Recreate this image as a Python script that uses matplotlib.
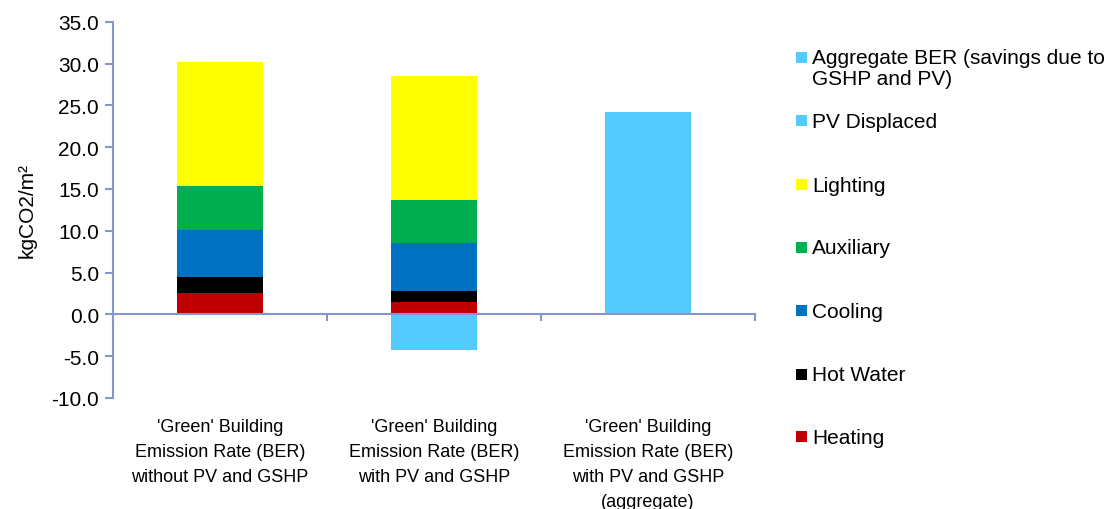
import matplotlib
matplotlib.use("Agg")
import matplotlib.pyplot as plt
from matplotlib.patches import Rectangle
import numpy as np

plt.rcParams['font.family'] = ['Liberation Sans', 'DejaVu Sans']

categories = [
    "'Green' Building\nEmission Rate (BER)\nwithout PV and GSHP",
    "'Green' Building\nEmission Rate (BER)\nwith PV and GSHP",
    "'Green' Building\nEmission Rate (BER)\nwith PV and GSHP\n(aggregate)",
]

heating = [2.56, 1.52, 0.0]
hot_water = [1.86, 1.31, 0.0]
cooling = [5.73, 5.65, 0.0]
auxiliary = [5.25, 5.19, 0.0]
lighting = [14.75, 14.83, 0.0]
pv_displaced = [0.0, -4.3, 0.0]
aggregate_ber = [0.0, 0.0, 24.2]

y_ticks = [-10, -5, 0, 5, 10, 15, 20, 25, 30, 35]

stack_series = [
    ("Heating", heating, "#C00000"),
    ("Hot Water", hot_water, "#000000"),
    ("Cooling", cooling, "#0070C0"),
    ("Auxiliary", auxiliary, "#00B050"),
    ("Lighting", lighting, "#FFFF00"),
]
pv_color = "#55CAFF"
agg_color = "#55CAFF"
axis_color = "#8696CC"

W, H = 1116, 510
fig = plt.figure(figsize=(W / 100, H / 100), dpi=100)
ax = fig.add_axes([113 / W, 1 - 399 / H, (755 - 113) / W, (399 - 22.7) / H])

x = np.arange(len(categories))
width = 0.4
bottom = np.zeros(len(categories))
for name, vals, col in stack_series:
    v = np.array(vals)
    ax.bar(x, v, width, bottom=bottom, color=col, linewidth=0)
    bottom += v
ax.bar(x, pv_displaced, width, color=pv_color, linewidth=0)
ax.bar(x, aggregate_ber, width, color=agg_color, linewidth=0)

ax.set_xlim(-0.5, 2.5)
ax.set_ylim(-10, 35)
ax.set_yticks(y_ticks)
ax.set_yticklabels([f"{t:.1f}" for t in y_ticks], fontsize=15)
ax.tick_params(axis='y', direction='out', length=6, width=1.5, color=axis_color, pad=4)

for s in ['top', 'right']:
    ax.spines[s].set_visible(False)
ax.spines['left'].set_color(axis_color)
ax.spines['left'].set_linewidth(1.5)
ax.spines['bottom'].set_position(('data', 0))
ax.spines['bottom'].set_color(axis_color)
ax.spines['bottom'].set_linewidth(1.5)

ax.set_xticks([])
ax.set_xticks([-0.5, 0.5, 1.5, 2.5], minor=True)
ax.tick_params(axis='x', which='minor', direction='out', length=5, width=1.5, color=axis_color, labelbottom=False)

for xi, lab in zip(x, categories):
    ax.text(xi, -0.052, lab, transform=ax.get_xaxis_transform(), ha='center', va='top',
            fontsize=13, linespacing=1.62)

ax.set_ylabel("kgCO2/m²", fontsize=15)
ax.yaxis.set_label_coords((37 - 113) / (755 - 113), 0.5)

# legend, listed from top to bottom
legend_items = [
    ("Aggregate BER (savings due to\nGSHP and PV)", agg_color, 58.3),
    ("PV Displaced", pv_color, 121.7),
    ("Lighting", "#FFFF00", 185.7),
    ("Auxiliary", "#00B050", 248.5),
    ("Cooling", "#0070C0", 311.5),
    ("Hot Water", "#000000", 375.0),
    ("Heating", "#C00000", 437.7),
]
sq = 11
for label, col, yc in legend_items:
    fig.add_artist(Rectangle((796 / W, 1 - (yc + sq / 2) / H), sq / W, sq / H,
                             transform=fig.transFigure, color=col, lw=0))
    fig.text(812 / W, 1 - (yc - 9) / H, label, ha='left', va='top', fontsize=15,
             linespacing=1.12)

fig.savefig("out.png", dpi=100)
